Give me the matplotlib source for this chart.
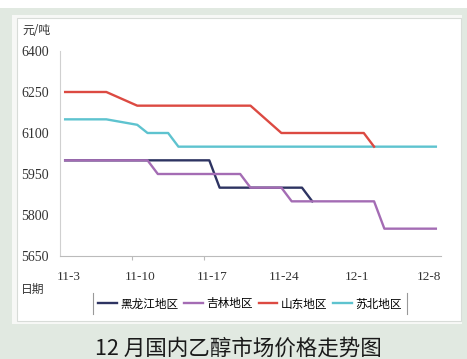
import matplotlib.pyplot as plt
from matplotlib.patches import Rectangle

plt.rcParams['font.family'] = ['Noto Sans CJK SC', 'DejaVu Sans']

# category positions (trading days from 11-3) and prices, read at the line vertices
hlj_x = [0, 14, 15, 23, 24]
hlj_y = [6000, 6000, 5900, 5900, 5850]
jl_x = [0, 8, 9, 17, 18, 21, 22, 30, 31, 36]
jl_y = [6000, 6000, 5950, 5950, 5900, 5900, 5850, 5850, 5750, 5750]
sd_x = [0, 4, 7, 18, 21, 29, 30]
sd_y = [6250, 6250, 6200, 6200, 6100, 6100, 6050]
sb_x = [0, 4, 7, 8, 10, 11, 36]
sb_y = [6150, 6150, 6130, 6100, 6100, 6050, 6050]

tick_pos = [0, 7, 14, 21, 28, 35]
tick_lab = ['11-3', '11-10', '11-17', '11-24', '12-1', '12-8']
y_ticks = [5650, 5800, 5950, 6100, 6250, 6400]

fig = plt.figure(figsize=(4.67, 3.59), dpi=100)
fig.patch.set_facecolor('#e1e9e1')
W, H = 467.0, 359.0
fig.patches.append(Rectangle((0, 1 - 8 / H), 1, 8 / H, transform=fig.transFigure,
                             facecolor='white', edgecolor='none', zorder=-3))
fig.patches.append(Rectangle((12 / W, 1 - 324 / H), 450 / W, 309 / H, transform=fig.transFigure,
                             facecolor='#f7f8f6', edgecolor='none', zorder=-2))
fig.patches.append(Rectangle((17 / W, 1 - 321 / H), 444 / W, 303 / H, transform=fig.transFigure,
                             facecolor='white', edgecolor='#d8dcd8', lw=0.8, zorder=-1))

ax = fig.add_axes([60 / W, 1 - 256 / H, 381 / W, 205 / H])
ax.set_facecolor('none')

ax.plot(hlj_x, hlj_y, color='#2e3462', lw=1.7, label='黑龙江地区')
ax.plot(jl_x, jl_y, color='#a46cb4', lw=1.7, label='吉林地区')
ax.plot(sb_x, sb_y, color='#5ec3cf', lw=1.7, label='苏北地区', zorder=2)
ax.plot(sd_x, sd_y, color='#dc4a42', lw=1.7, label='山东地区', zorder=3)

ax.set_xlim(-0.5, 36.5)
ax.set_ylim(5650, 6400)
ax.set_xticks([p - 0.5 for p in tick_pos[1:3]])
ax.set_xticklabels([])
ax.tick_params(axis='x', length=3, color='#bbbbbb')
for p, t in zip(tick_pos, tick_lab):
    ax.text(p + 0.3, 5650 - 21 / 0.2733, t, ha='center', va='center',
            fontsize=9.5, family='Liberation Serif', color='#333333')
ax.set_yticks(y_ticks)
ax.set_yticklabels([str(v) for v in y_ticks], family='Liberation Serif', fontsize=10,
                   color='#333333')
ax.tick_params(axis='y', length=0, pad=8)
for s in ['top', 'right']:
    ax.spines[s].set_visible(False)
ax.spines['left'].set_color('#d0d0d0')
ax.spines['bottom'].set_color('#bbbbbb')

fig.text(36 / W, 1 - 31 / H, '元/吨', ha='center', va='center', fontsize=8.5, color='#333333')
fig.text(33 / W, 1 - 289 / H, '日期', ha='center', va='center', fontsize=8.5, color='#333333')

handles, labels = ax.get_legend_handles_labels()
order = [0, 1, 3, 2]
leg = fig.legend([handles[i] for i in order], [labels[i] for i in order],
                 loc='center', bbox_to_anchor=(250 / W, 1 - 304 / H), ncol=4,
                 fontsize=8.4, frameon=False, handlelength=1.6, handletextpad=0.3,
                 columnspacing=0.5)
fig.add_artist(plt.Line2D([93 / W, 93 / W], [1 - 314 / H, 1 - 293 / H], color='#999999', lw=0.8))
fig.add_artist(plt.Line2D([407 / W, 407 / W], [1 - 314 / H, 1 - 293 / H], color='#999999', lw=0.8))

fig.text(238 / W, 1 - 349 / H, '12 月国内乙醇市场价格走势图', ha='center', va='center',
         fontsize=15.5, color='#1a1a1a')

fig.savefig('out.png', dpi=100, facecolor=fig.get_facecolor())
